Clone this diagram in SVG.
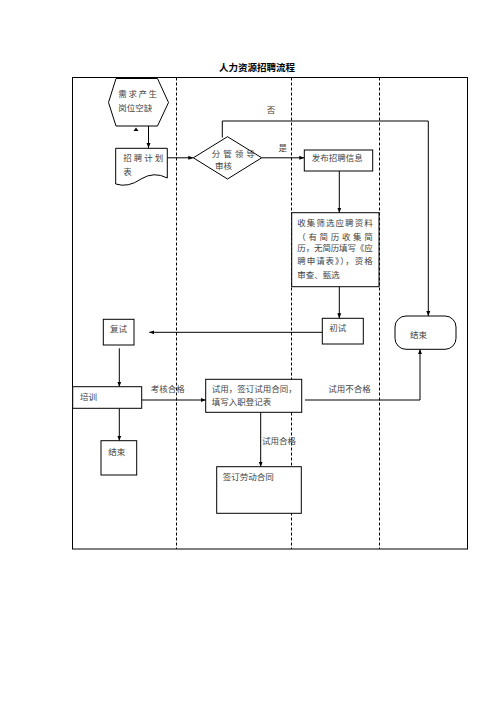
<svg xmlns="http://www.w3.org/2000/svg" width="496" height="702" viewBox="0 0 496 702">
<style>
  .t{font-family:"Liberation Serif","Noto Sans CJK SC",serif;font-size:8.5px;fill:#444}
  .title{font-family:"Liberation Serif","Noto Sans CJK SC",serif;font-size:9.5px;font-weight:bold;fill:#000}
  .box{fill:#fff;stroke:#000;stroke-width:1}
  .ln{fill:none;stroke:#000;stroke-width:1}
  .dash{fill:none;stroke:#000;stroke-width:1;stroke-dasharray:3,2}
</style>
<defs>
  <marker id="ah" viewBox="0 0 10 10" refX="10" refY="5" markerWidth="5" markerHeight="5" orient="auto" markerUnits="userSpaceOnUse">
    <path d="M0,1 L10,5 L0,9 Z" fill="#000"/>
  </marker>
</defs>
<rect width="496" height="702" fill="#fff"/>
<text class="title" x="257" y="71" text-anchor="middle">人力资源招聘流程</text>
<g id="frame">
  <rect x="72.5" y="77.5" width="395" height="471.5" class="ln" stroke-width="1.2"/>
  <line x1="176.5" y1="77.5" x2="176.5" y2="549" class="dash"/>
  <line x1="291.5" y1="77.5" x2="291.5" y2="549" class="dash"/>
  <line x1="379.5" y1="77.5" x2="379.5" y2="549" class="dash"/>
</g>
<g id="connectors">
  <polygon points="136,127.5 133.5,131 138.5,131" fill="#000"/>
  <line x1="148.5" y1="126" x2="148.5" y2="148" class="ln" marker-end="url(#ah)"/>
  <line x1="167.5" y1="157.8" x2="193.3" y2="157.8" class="ln" marker-end="url(#ah)"/>
  <polyline points="222.3,137.5 222.3,121 428.3,121 428.3,316" class="ln" marker-end="url(#ah)"/>
  <line x1="261.7" y1="157.8" x2="304.3" y2="157.8" class="ln" marker-end="url(#ah)"/>
  <line x1="339.3" y1="171" x2="339.3" y2="212.7" class="ln" marker-end="url(#ah)"/>
  <line x1="339.3" y1="286.7" x2="339.3" y2="318.3" class="ln" marker-end="url(#ah)"/>
  <line x1="322.3" y1="332.3" x2="149.3" y2="332.3" class="ln" marker-end="url(#ah)"/>
  <line x1="119.3" y1="348.3" x2="119.3" y2="386.7" class="ln" marker-end="url(#ah)"/>
  <line x1="141.7" y1="400" x2="205.7" y2="400" class="ln" marker-end="url(#ah)"/>
  <polyline points="305,400 420,400 420,349.3" class="ln" marker-end="url(#ah)"/>
  <line x1="119.3" y1="408.3" x2="119.3" y2="440.7" class="ln" marker-end="url(#ah)"/>
  <line x1="260.7" y1="412.3" x2="260.7" y2="466.7" class="ln" marker-end="url(#ah)"/>
  <text class="t" x="271" y="113" text-anchor="middle">否</text>
  <text class="t" x="278.5" y="150.5">是</text>
  <text class="t" x="150.7" y="392.3">考核合格</text>
  <text class="t" x="328.3" y="392.3">试用不合格</text>
  <text class="t" x="262" y="444">试用合格</text>
</g>
<g id="n-start">
  <polygon points="116,78.5 157.5,78.5 168.5,102.5 157.5,126 116,126 108.5,102.5" class="box"/>
  <text class="t" x="118.3" y="97.3" letter-spacing="1.6">需求产生</text>
  <text class="t" x="118.3" y="110.7">岗位空缺</text>
</g>
<g id="n-plan">
  <path d="M115.7,148.3 H167.3 V178 Q154,171 141,179 Q128,188 115.7,184 Z" class="box"/>
  <text class="t" x="123.3" y="161.3" letter-spacing="2">招聘计划</text>
  <text class="t" x="123.3" y="174.7">表</text>
</g>
<g id="n-review">
  <polygon points="193.3,157.8 227.5,136.7 261.7,157.8 227.5,179" class="box"/>
  <text class="t" x="211.7" y="157" letter-spacing="3">分管领导</text>
  <text class="t" x="215" y="169">审核</text>
</g>
<g id="n-publish">
  <rect x="304.3" y="150" width="68.4" height="21" class="box"/>
  <text class="t" x="311.7" y="161.3">发布招聘信息</text>
</g>
<g id="n-collect">
  <rect x="291.7" y="212.7" width="87.3" height="74" class="box"/>
  <text class="t" x="297.3" y="226.3" textLength="75.4" lengthAdjust="spacing">收集筛选应聘资料</text>
  <text class="t" x="297.3" y="239.7" textLength="75.4" lengthAdjust="spacing">（有简历收集简</text>
  <text class="t" x="297.3" y="251.3" textLength="75.4" lengthAdjust="spacing">历，无简历填写《应</text>
  <text class="t" x="297.3" y="263.7" textLength="75.4" lengthAdjust="spacing">聘申请表》），资格</text>
  <text class="t" x="297.3" y="278">审查、甄选</text>
</g>
<g id="n-first">
  <rect x="322.3" y="318.3" width="41" height="25.7" class="box"/>
  <text class="t" x="329.3" y="331.3">初试</text>
</g>
<g id="n-second">
  <rect x="103.3" y="319.3" width="30.7" height="25.7" class="box"/>
  <text class="t" x="110" y="332">复试</text>
</g>
<g id="n-end1">
  <rect x="395" y="316" width="61" height="33.3" rx="11" ry="11" class="box"/>
  <text class="t" x="410" y="338">结束</text>
</g>
<g id="n-train">
  <rect x="72.7" y="386.7" width="69" height="21.6" class="box"/>
  <text class="t" x="80" y="399.7">培训</text>
</g>
<g id="n-trial">
  <rect x="205.7" y="379.3" width="96" height="33" class="box"/>
  <text class="t" x="211.7" y="392.3">试用，签订试用合同，</text>
  <text class="t" x="211.7" y="404.7">填写入职登记表</text>
</g>
<g id="n-end2">
  <rect x="101" y="440.7" width="35.7" height="34.3" class="box"/>
  <text class="t" x="108.3" y="454.7">结束</text>
</g>
<g id="n-contract">
  <rect x="216.7" y="466.7" width="84.6" height="46.6" class="box"/>
  <text class="t" x="222.7" y="480.3">签订劳动合同</text>
</g>
</svg>
